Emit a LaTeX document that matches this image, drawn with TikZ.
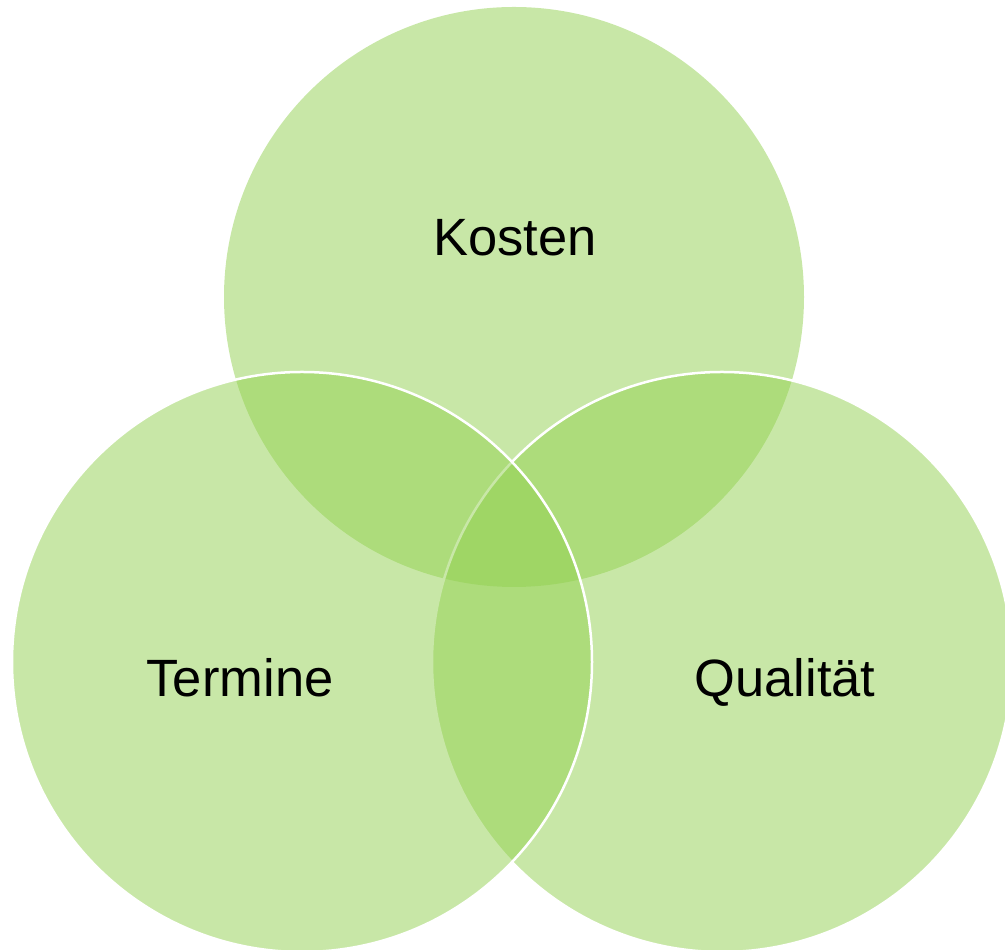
\documentclass[tikz,border=0pt]{standalone}
\usepackage{fontspec}
\setmainfont{Liberation Sans}
\usepackage{xcolor}
\usetikzlibrary{positioning}
\definecolor{leafgreen}{HTML}{92D050}
\tikzset{
  bubble/.style={
    fill=leafgreen,
    fill opacity=0.5},
  rim/.style={
    draw=white, line width=2.5pt},
  label/.style={
    anchor=base,
    text=black,
    font=\fontsize{52.5}{60}\selectfont}
}

\begin{document}
\begin{tikzpicture}[x=1pt,y=1pt]
    \useasboundingbox (0,0) rectangle (1005,950);

    \coordinate (C1) at (514,653);
    \coordinate (C2) at (722,288);
    \coordinate (C3) at (302,288);

    % Kosten oben, dann Qualitaet, Termine zuletzt
    \fill[bubble] (C1) circle (290pt);
    \filldraw[bubble, rim] (C2) circle (290pt);
    \filldraw[bubble, rim] (C3) circle (290pt);

    \node[label] (kosten) at (515,694) {Kosten};
    \node[label] (termine) at (240,253) {Termine};
    \node[label] (qualitaet) at (785,253) {Qualität};
\end{tikzpicture}
\end{document}
